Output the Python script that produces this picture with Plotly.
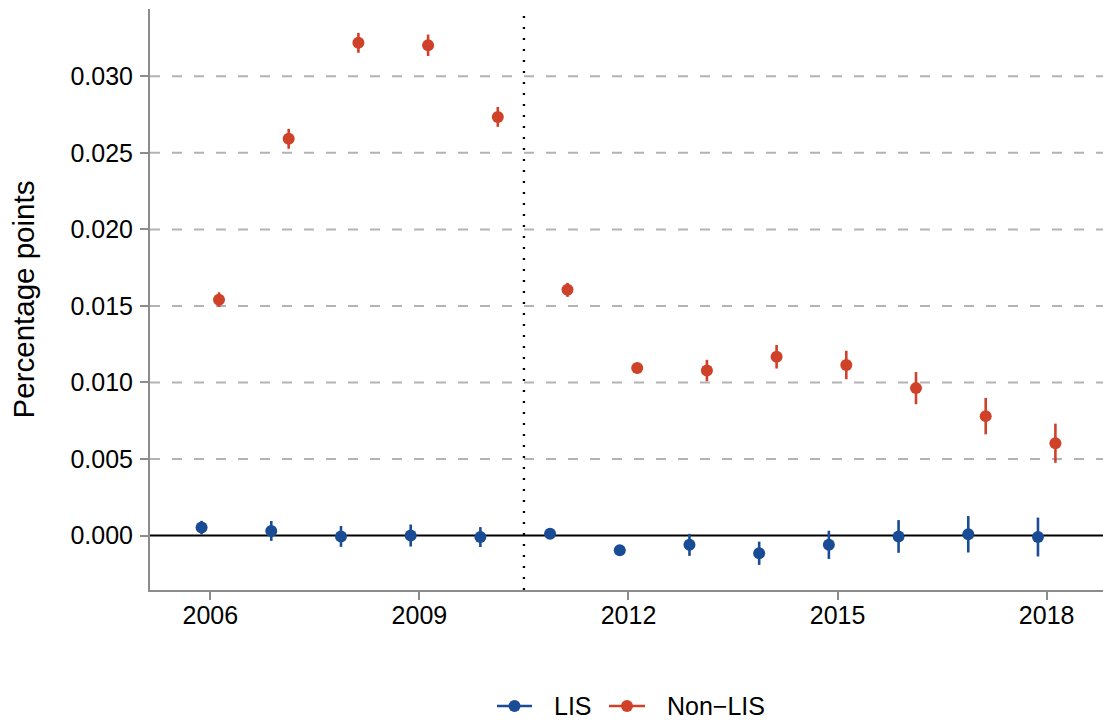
import plotly.graph_objects as go

years = [2006, 2007, 2008, 2009, 2010, 2011, 2012, 2013, 2014, 2015, 2016, 2017, 2018]

lis_est = [0.00052, 0.00030, -0.00006, 0.00000, -0.00010, 0.00012, -0.00096, -0.00061,
           -0.00116, -0.00061, -0.00006, 0.00008, -0.00010]
lis_err = [0.00044, 0.00065, 0.00068, 0.00072, 0.00065, 0.00033, 0.00028, 0.00072,
           0.00076, 0.00092, 0.00107, 0.00119, 0.00127]

nonlis_est = [0.01541, 0.02592, 0.03219, 0.03203, 0.02735, 0.01605, 0.01095, 0.01078,
              0.01168, 0.01114, 0.00963, 0.00780, 0.00603]
nonlis_err = [0.00048, 0.00065, 0.00065, 0.00070, 0.00065, 0.00046, 0.00028, 0.00070,
              0.00077, 0.00093, 0.00105, 0.00119, 0.00128]

series_names = ["LIS", "Non\u2212LIS"]

dodge = 0.125
policy_break = 2010.5

y_ticks = [0.000, 0.005, 0.010, 0.015, 0.020, 0.025, 0.030]
y_tick_labels = ["0.000", "0.005", "0.010", "0.015", "0.020", "0.025", "0.030"]
x_ticks = [2006, 2009, 2012, 2015, 2018]

BLUE = "#1A4C96"
RED = "#CF4129"
FONT = "Liberation Sans, Arial, sans-serif"

W, H = 1103, 723
ML, MR, MT, MB = 150, 0, 9, 133
PW, PH = W - ML - MR, H - MT - MB


def px_x(p):
    return (p - ML) / PW


def px_y(p):
    return (H - MB - p) / PH


fig = go.Figure()

# dashed horizontal gridlines (excluding zero)
for yv in y_ticks:
    if yv == 0:
        continue
    fig.add_shape(type="line", xref="paper", x0=0, x1=1, yref="y", y0=yv, y1=yv,
                  line=dict(color="#B3B3B3", width=2, dash="10px,12px"), layer="below")

# zero line
fig.add_shape(type="line", xref="paper", x0=0, x1=1, yref="y", y0=0, y1=0,
              line=dict(color="black", width=2.2), layer="below")

# vertical dotted line
fig.add_shape(type="line", xref="x", x0=policy_break, x1=policy_break, yref="paper", y0=0, y1=1,
              line=dict(color="black", width=2.3, dash="2px,9px"), layer="below")

fig.add_trace(go.Scatter(
    x=[y - dodge for y in years], y=lis_est, mode="markers", name=series_names[0],
    marker=dict(color=BLUE, size=12),
    error_y=dict(type="data", array=lis_err, visible=True, color=BLUE, thickness=2.6, width=0),
    showlegend=False,
))
fig.add_trace(go.Scatter(
    x=[y + dodge for y in years], y=nonlis_est, mode="markers", name=series_names[1],
    marker=dict(color=RED, size=12),
    error_y=dict(type="data", array=nonlis_err, visible=True, color=RED, thickness=2.6, width=0),
    showlegend=False,
))

# manual legend (bottom, centred under the panel)
leg_y = px_y(706)
for (l0, l1, tx), col, name in zip([(497, 532, 552), (609, 645, 665)], [BLUE, RED], series_names):
    fig.add_shape(type="line", xref="paper", yref="paper", x0=px_x(l0), x1=px_x(l1),
                  y0=leg_y, y1=leg_y, line=dict(color=col, width=2.6))
    cx = px_x((l0 + l1) / 2)
    fig.add_shape(type="circle", xref="paper", yref="paper", xsizemode="pixel", ysizemode="pixel",
                  xanchor=cx, yanchor=leg_y, x0=-6, x1=6, y0=-6, y1=6,
                  fillcolor=col, line=dict(color=col, width=0))
    fig.add_annotation(xref="paper", yref="paper", x=px_x(tx), y=leg_y, text=name,
                       showarrow=False, xanchor="left", yanchor="middle",
                       font=dict(size=25, color="black"))

fig.update_layout(
    width=W, height=H,
    margin=dict(l=ML, r=MR, t=MT, b=MB, autoexpand=False),
    paper_bgcolor="white", plot_bgcolor="white",
    font=dict(family=FONT, size=25, color="black"),
    showlegend=False,
    xaxis=dict(range=[2005.135, 2018.808], tickvals=x_ticks, ticktext=[str(t) for t in x_ticks],
               showgrid=False, zeroline=False, showline=True, linecolor="#8C8C8C", linewidth=2,
               ticks="outside", ticklen=8, tickwidth=2, tickcolor="#8C8C8C",
               tickfont=dict(size=25, color="black"), ticklabelstandoff=-6),
    yaxis=dict(range=[-0.00356, 0.0344], tickvals=y_ticks, ticktext=y_tick_labels,
               showgrid=False, zeroline=False, showline=True, linecolor="#8C8C8C", linewidth=2,
               ticks="outside", ticklen=8, tickwidth=2, tickcolor="#8C8C8C",
               tickfont=dict(size=25, color="black"), ticklabelstandoff=2,
               title=dict(text="Percentage points", font=dict(size=29.5, color="black"), standoff=27)),
)

fig.write_html("out.html", config={"displayModeBar": False},
               post_script="document.body.style.margin='0';document.body.style.overflow='hidden';")
